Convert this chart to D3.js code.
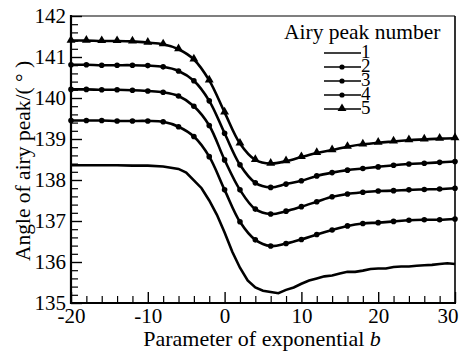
<!DOCTYPE html>
<html lang="en">
<head>
<meta charset="UTF-8">
<title>Angle of airy peak vs parameter b</title>
<script src="https://d3js.org/d3.v7.min.js"></script>
<style>
    body{ margin:0; background:#fff; }
    text{ font-family:"Liberation Serif","DejaVu Serif",serif; fill:#000; }
    path.series{ fill:none; stroke:#000; stroke-width:2.6px; }
    .tick line{ stroke:#000; }
</style>
</head>
<body>
<svg width="462" height="352"></svg>
<script>
    // values
    let bFine = [-20,-18,-16,-14,-12,-10,-8,-6,-5,-4,-3,-2,-1,0,1,2,3,4,5,6,7,8,9,10,11,12,13,14,15,16,17,18,19,20,21,22,23,24,25,26,27,28,29,30];
    let peak1 = [138.36,138.36,138.36,138.36,138.35,138.35,138.33,138.27,138.18,137.99,137.80,137.50,137.15,136.72,136.25,135.86,135.55,135.38,135.30,135.27,135.24,135.32,135.38,135.47,135.55,135.60,135.65,135.67,135.72,135.76,135.76,135.79,135.83,135.84,135.84,135.88,135.89,135.89,135.91,135.92,135.93,135.95,135.97,135.95];
    let bStep = [-20,-18,-16,-14,-12,-10,-8,-6,-4,-2,0,2,4,6,8,10,12,14,16,18,20,22,24,26,28,30];
    let peak2 = [139.45,139.45,139.45,139.44,139.44,139.44,139.42,139.30,139.06,138.57,137.76,136.98,136.54,136.39,136.45,136.55,136.67,136.78,136.88,136.94,136.96,136.99,137.02,137.03,137.03,137.05];
    let peak3 = [140.21,140.21,140.20,140.20,140.19,140.17,140.14,140.05,139.80,139.33,138.49,137.76,137.29,137.17,137.24,137.35,137.47,137.59,137.66,137.70,137.73,137.74,137.76,137.77,137.78,137.80];
    let peak4 = [140.81,140.81,140.80,140.80,140.80,140.79,140.76,140.66,140.42,139.93,139.14,138.37,137.93,137.82,137.90,137.98,138.10,138.18,138.24,138.28,138.32,138.36,138.39,138.41,138.43,138.45];
    let peak5 = [141.40,141.40,141.39,141.39,141.38,141.35,141.31,141.19,140.94,140.43,139.65,138.89,138.49,138.40,138.46,138.56,138.66,138.73,138.81,138.87,138.91,138.94,138.97,138.99,139.01,139.02];
    let legendLabels = ['1','2','3','4','5'];
    let xTicks = [-20,-10,0,10,20,30];
    let yTicks = [135,136,137,138,139,140,141,142];

    let svg = d3.select('svg');
    let x = d3.scaleLinear().domain([-20,30]).range([71,455]);
    let y = d3.scaleLinear().domain([135,142]).range([303,16]);

    let series = [
        {name:'1', b:bFine, v:peak1, mark:null},
        {name:'2', b:bStep, v:peak2, mark:'dot'},
        {name:'3', b:bStep, v:peak3, mark:'dot'},
        {name:'4', b:bStep, v:peak4, mark:'dot'},
        {name:'5', b:bStep, v:peak5, mark:'tri'}
    ];

    // minor ticks
    let minorX = d3.range(-20,30.01,2).filter(function(d){return xTicks.indexOf(d)<0});
    let minorY = d3.range(135,142.001,0.2).filter(function(d){return Math.abs(d-Math.round(d))>0.01});
    svg.append('g').attr('transform','translate(0,303)')
        .call(d3.axisBottom(x).tickValues(minorX).tickSize(-7).tickFormat(''))
        .call(function(g){g.select('.domain').remove()})
        .selectAll('line').attr('stroke-width',1.2);
    svg.append('g').attr('transform','translate(71,0)')
        .call(d3.axisLeft(y).tickValues(minorY).tickSize(-7).tickFormat(''))
        .call(function(g){g.select('.domain').remove()})
        .selectAll('line').attr('stroke-width',1.2);

    // major ticks with labels (plain hyphen for negatives, as in the figure)
    let plain = function(d){return String(d)};
    let xAxis = svg.append('g').attr('transform','translate(0,303)')
        .call(d3.axisBottom(x).tickValues(xTicks).tickSize(-11).tickPadding(5).tickFormat(plain));
    xAxis.select('.domain').remove();
    xAxis.selectAll('line').attr('stroke-width',1.4);
    xAxis.selectAll('text').style('font-size','21px').attr('fill','#000');
    // last label is pulled inside the picture
    xAxis.selectAll('text').filter(function(d){return d===30})
        .attr('text-anchor','end').attr('x',3);

    let yAxis = svg.append('g').attr('transform','translate(71,0)')
        .call(d3.axisLeft(y).tickValues(yTicks).tickSize(-11).tickPadding(5).tickFormat(plain));
    yAxis.select('.domain').remove();
    yAxis.selectAll('line').attr('stroke-width',1.4);
    yAxis.selectAll('text').style('font-size','21px').attr('fill','#000');

    // frame
    svg.append('line').attr('x1',71).attr('x2',455).attr('y1',16).attr('y2',16).attr('stroke','#000').attr('stroke-width',1.2);
    svg.append('line').attr('x1',455).attr('x2',455).attr('y1',16).attr('y2',303).attr('stroke','#000').attr('stroke-width',1.6);
    svg.append('line').attr('x1',71).attr('x2',71).attr('y1',15).attr('y2',304).attr('stroke','#000').attr('stroke-width',2.2);
    svg.append('line').attr('x1',70).attr('x2',456).attr('y1',303).attr('y2',303).attr('stroke','#000').attr('stroke-width',2.2);

    // curves
    let tri = d3.symbol().type(d3.symbolTriangle).size(34);
    series.forEach(function(s){
        let pts = s.b.map(function(b,i){return [b,s.v[i]]});
        let line = d3.line()
            .x(function(d){return x(d[0])})
            .y(function(d){return y(d[1])})
            .curve(s.mark ? d3.curveCatmullRom : d3.curveLinear);
        svg.append('path').attr('class','series').attr('d',line(pts));
        if(s.mark==='dot'){
            svg.append('g').selectAll('circle').data(pts).join('circle')
                .attr('cx',function(d){return x(d[0])})
                .attr('cy',function(d){return y(d[1])})
                .attr('r',2.8).attr('fill','#000');
        } else if(s.mark==='tri'){
            svg.append('g').selectAll('path').data(pts).join('path')
                .attr('d',tri)
                .attr('transform',function(d){return 'translate('+x(d[0])+','+(y(d[1])-0.5)+')'})
                .attr('fill','#000');
        }
    });

    // legend
    let lg = svg.append('g');
    lg.append('text').attr('x',284).attr('y',39).style('font-size','21.5px').text('Airy peak number');
    series.forEach(function(s,i){
        let ly = 53 + i*14;
        lg.append('line').attr('x1',324).attr('x2',361).attr('y1',ly).attr('y2',ly)
            .attr('stroke','#000').attr('stroke-width',1.6);
        if(s.mark==='dot'){
            lg.append('circle').attr('cx',342).attr('cy',ly).attr('r',2.6).attr('fill','#000');
        } else if(s.mark==='tri'){
            lg.append('path').attr('d',tri).attr('transform','translate(342,'+(ly-0.5)+')').attr('fill','#000');
        }
        lg.append('text').attr('x',361).attr('y',ly+5).style('font-size','19px').text(legendLabels[i]);
    });

    // axis titles
    let xt = svg.append('text').attr('x',262).attr('y',346).attr('text-anchor','middle').style('font-size','22px');
    xt.append('tspan').text('Parameter of exponential ');
    xt.append('tspan').style('font-style','italic').text('b');

    svg.append('text').attr('transform','translate(30,161) rotate(-90)')
        .attr('text-anchor','middle').style('font-size','21.5px')
        .text('Angle of airy peak/( \u00b0 )');
</script>
</body>
</html>
